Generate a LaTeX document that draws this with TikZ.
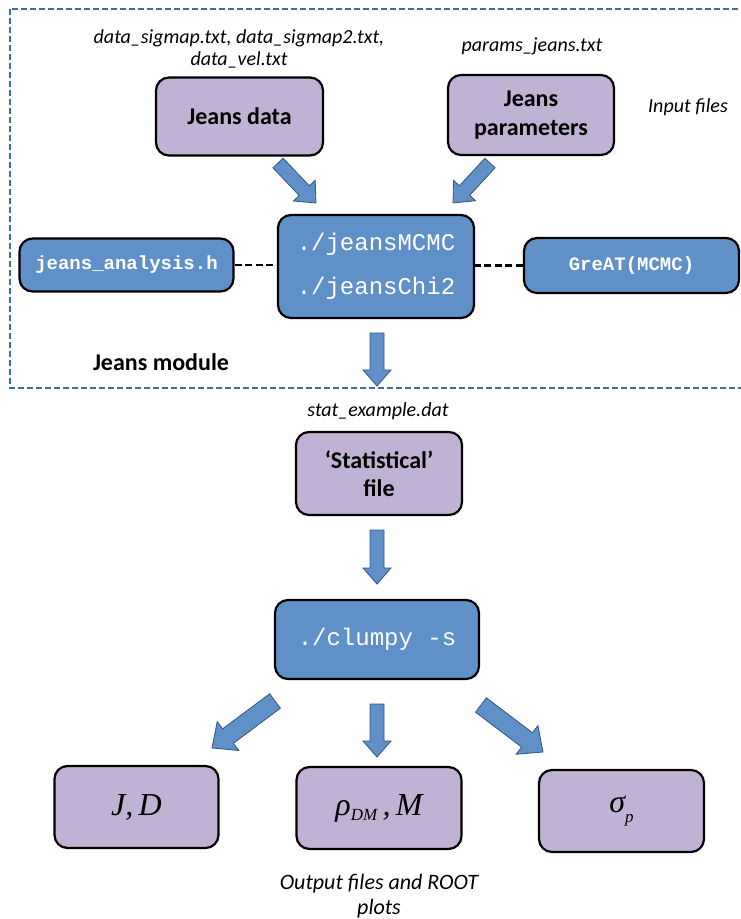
\documentclass[tikz,border=0pt]{standalone}
\usepackage{fontspec}
\setmainfont{Carlito}
\newfontfamily\cour{Liberation Mono}
\newfontfamily\tnr{Liberation Serif}
\usetikzlibrary{calc}
\definecolor{boxpurple}{RGB}{192,178,212}
\definecolor{boxblue}{RGB}{95,145,200}
\definecolor{arrline}{RGB}{50,85,130}
\definecolor{framecol}{RGB}{62,110,165}
\tikzset{
 base/.style={rounded corners=13pt, draw=black, line width=2.2pt, inner sep=0pt, align=center},
 pbox/.style={base, fill=boxpurple},
 bbox/.style={base, fill=boxblue, text=white},
 lbl/.style={font=\fontsize{20}{22}\selectfont\itshape, align=center, inner sep=0pt},
 boldtxt/.style={font=\bfseries\fontsize{24}{29}\selectfont},
 barr/.style={draw=arrline, fill=boxblue, line width=0.8pt, line join=miter},
 dconn/.style={draw=black, line width=2.6pt, dash pattern=on 7pt off 3.5pt},
 frame/.style={draw=framecol, line width=1.8pt, dash pattern=on 6pt off 3pt},
}
\newcommand\blockarrow[5]{%
 \coordinate (nk) at ($(#2)!#5!(#1)$);
 \path[barr] ($(#1)!#3!90:(#2)$) -- ($(nk)!#3!90:(#2)$) -- ($(nk)!#4!90:(#2)$) -- (#2)
   -- ($(nk)!#4!-90:(#2)$) -- ($(nk)!#3!-90:(#2)$) -- ($(#1)!#3!-90:(#2)$) -- cycle;
}
\begin{document}
\begin{tikzpicture}[x=1pt,y=-1pt]
\useasboundingbox (0,0) rectangle (741,919);
\clip (0,0) rectangle (741,919);
\fill[white] (0,0) rectangle (741,919);
% frame
\draw[frame] (10,9) rectangle (760,388);
% boxes
\node[pbox, boldtxt, minimum width=167pt, minimum height=78pt] (jdata) at (239.5,116.5) {Jeans data};
\node[pbox, boldtxt, minimum width=166pt, minimum height=80pt] (jparams) at (531,115) {Jeans\\parameters};
\node[bbox, font=\cour\fontsize{24}{44}\selectfont, minimum width=196pt, minimum height=103pt] (jmcmc) at (376,266.5) {./jeansMCMC\\./jeansChi2};
\node[bbox, font=\cour\bfseries\fontsize{19}{22}\selectfont, minimum width=214pt, minimum height=53pt] (janal) at (126.5,265) {jeans\_analysis.h};
\node[bbox, font=\cour\bfseries\fontsize{19}{22}\selectfont, minimum width=215pt, minimum height=55pt] (great) at (631.5,265.5) {GreAT(MCMC)};
\node[pbox, font=\bfseries\fontsize{24}{28}\selectfont, minimum width=166pt, minimum height=83pt] (stat) at (379,473.5) {‘Statistical’\\file};
\node[bbox, font=\cour\fontsize{24}{28}\selectfont, minimum width=204pt, minimum height=79pt] (clumpy) at (377,639.5) {./clumpy -s};
\node[pbox, font=\tnr\itshape\fontsize{32}{36}\selectfont, minimum width=164pt, minimum height=82pt] (jd) at (136.5,807) {J,\,D};
\node[pbox, font=\tnr\itshape\fontsize{32}{36}\selectfont, minimum width=165pt, minimum height=82pt] (rho) at (379,808) {ρ\raisebox{-0.35ex}{\fontsize{17}{20}\selectfont DM}\,,\,M};
\node[pbox, font=\tnr\itshape\fontsize{32}{36}\selectfont, minimum width=165pt, minimum height=82pt] (sigma) at (621.5,811) {σ\raisebox{-0.7ex}{\fontsize{17}{20}\selectfont p}};
% labels
\node[lbl] (l1) at (239,49) {data\_sigmap.txt, data\_sigmap2.txt,\\data\_vel.txt};
\node[lbl] (l2) at (532,46) {params\_jeans.txt};
\node[lbl] (l3) at (688,107) {Input files};
\node[boldtxt, inner sep=0pt] (l4) at (161,362) {Jeans module};
\node[lbl] (l5) at (378,411) {stat\_example.dat};
\node[lbl, font=\fontsize{22}{25}\selectfont\itshape] (l6) at (379,896) {Output files and ROOT\\plots};
% dashed connectors
\draw[dconn] (janal.east) -- (janal.east -| jmcmc.west);
\draw[dconn] (great.west) -- (great.west -| jmcmc.east);
% arrow coordinates
\coordinate (a1s) at (278,163); \coordinate (a1e) at (316,203);
\coordinate (a2s) at (490,163); \coordinate (a2e) at (453,203);
\coordinate (a3s) at (377,333); \coordinate (a3e) at (377,386);
\coordinate (a4s) at (377,530); \coordinate (a4e) at (377,584);
\coordinate (a5s) at (275,701); \coordinate (a5e) at (212,748);
\coordinate (a6s) at (377,704); \coordinate (a6e) at (377,757);
\coordinate (a7s) at (481,705); \coordinate (a7e) at (543,752);
\blockarrow{a1s}{a1e}{7pt}{15pt}{17pt}
\blockarrow{a2s}{a2e}{7pt}{15pt}{17pt}
\blockarrow{a3s}{a3e}{7pt}{14pt}{16pt}
\blockarrow{a4s}{a4e}{7pt}{14pt}{16pt}
\blockarrow{a5s}{a5e}{9pt}{18pt}{20pt}
\blockarrow{a6s}{a6e}{7pt}{14pt}{16pt}
\blockarrow{a7s}{a7e}{9pt}{18pt}{20pt}
\end{tikzpicture}
\end{document}
